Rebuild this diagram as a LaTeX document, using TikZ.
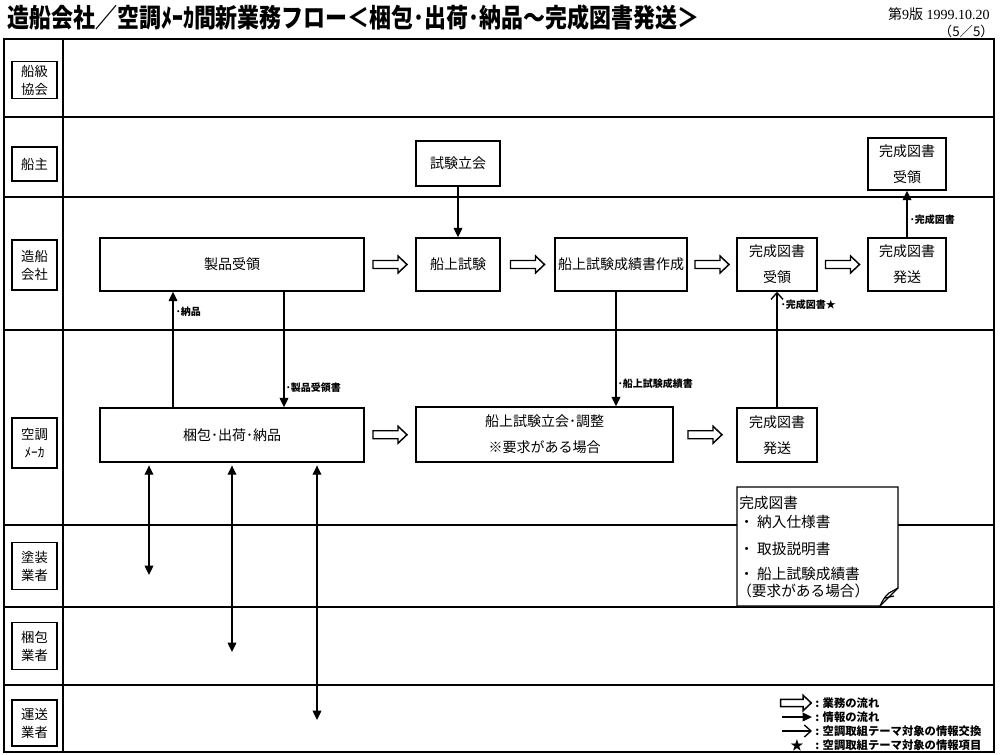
\documentclass[tikz,border=0pt]{standalone}
\usepackage{fontspec}
\usepackage{graphicx}
\setmainfont{Liberation Serif}
\newfontfamily\jp{Noto Sans CJK JP}
\usetikzlibrary{arrows.meta,calc}
\begin{document}
\begin{tikzpicture}[x=0.75pt,y=-0.75pt,
  box/.style={draw, line width=1.1pt, fill=white, align=center, inner sep=0pt,
    font=\jp\fontsize{10.5}{19.5}\selectfont},
  lanebox/.style={draw, line width=0.9pt, fill=white, align=center, inner sep=0pt,
    minimum width=33.75pt, font=\jp\fontsize{10}{13.5}\selectfont},
  laneline/.style={line width=0.9pt},
  info/.style={line width=1pt, -{Triangle[length=7pt,width=6.5pt]}},
  xchg/.style={line width=1pt, -{Straight Barb[length=5pt,width=9pt]}},
  both/.style={line width=1pt, {Triangle[length=7pt,width=6.5pt]}-{Triangle[length=7pt,width=6.5pt]}},
  lbl/.style={anchor=west, inner sep=0.5pt, font=\jp\bfseries\fontsize{7.5}{9}\selectfont},
  notetxt/.style={anchor=west, inner sep=0pt, font=\jp\fontsize{11}{13}\selectfont},
  legtxt/.style={anchor=west, inner sep=0pt, font=\jp\bfseries\fontsize{8.5}{10}\selectfont},
  barrow/.pic={\draw[line width=1.1pt, fill=white] (-17,-4) -- (8,-4) -- (8,-8.5) -- (17,0) -- (8,8.5) -- (8,4) -- (-17,4) -- cycle;}
]
\useasboundingbox (0,0) rectangle (1000,755);

% title and header
\node[anchor=west, inner sep=0pt] (title) at (7,18)
  {\scalebox{0.845}[1]{\jp\bfseries\fontsize{19.5}{22}\selectfont 造船会社／空調ﾒｰｶ間新業務フロー＜梱包･出荷･納品～完成図書発送＞}};
\node[anchor=east, inner sep=0pt, font=\fontsize{10.5}{12}\selectfont] (ver) at (990,14) {{\jp 第}9{\jp 版} 1999.10.20};
\node[anchor=east, inner sep=0pt, font=\jp\fontsize{10}{12}\selectfont] (page) at (994,31) {（5／5）};

% frame and lanes
\draw[line width=1pt] (4,39) rectangle (994,752);
\draw[laneline] (63,39) -- (63,752);
\foreach \yy in {117,197,330,525,607,685} { \draw[laneline] (4,\yy) -- (994,\yy); }

% lane labels
\node[lanebox, minimum height=27.75pt] (L1) at (34.5,80) {船級\\協会};
\node[lanebox, minimum height=25.5pt] (L2) at (34.5,164) {船主};
\node[lanebox, minimum height=37.5pt] (L3) at (34.5,265) {造船\\会社};
\node[lanebox, minimum height=37.5pt] (L4) at (34.5,443) {空調\\ﾒｰｶ};
\node[lanebox, minimum height=35pt] (L5) at (34.5,566) {塗装\\業者};
\node[lanebox, minimum height=35pt] (L6) at (34.5,646) {梱包\\業者};
\node[lanebox, minimum height=34.5pt] (L7) at (34.5,723) {運送\\業者};

% process boxes
\node[box, minimum width=63pt, minimum height=33.75pt] (witness) at (458,163.5) {試験立会};
\node[box, minimum width=58.5pt, minimum height=39pt] (ownrecv) at (907,164) {完成図書\\受領};
\node[box, minimum width=198pt, minimum height=39.75pt] (seihin) at (232,264.5) {製品受領};
\node[box, minimum width=63pt, minimum height=39.75pt] (senjo) at (458,264.5) {船上試験};
\node[box, minimum width=99pt, minimum height=39.75pt] (seiseki) at (621,264.5) {船上試験成績書作成};
\node[box, minimum width=60pt, minimum height=39.75pt] (juryo) at (777,264.5) {完成図書\\受領};
\node[box, minimum width=58.5pt, minimum height=39.75pt] (hasso1) at (907,264.5) {完成図書\\発送};
\node[box, minimum width=198pt, minimum height=40.5pt] (konpo) at (232,435) {梱包･出荷･納品};
\node[box, minimum width=192.75pt, minimum height=41.25pt] (tachiai) at (544.5,434.5) {船上試験立会･調整\\※要求がある場合};
\node[box, minimum width=60pt, minimum height=40.5pt] (hasso2) at (777,435) {完成図書\\発送};

% business flow arrows
\path ($(seihin.east)!0.5!(senjo.west)$) pic{barrow};
\path ($(senjo.east)!0.5!(seiseki.west)$) pic{barrow};
\path ($(seiseki.east)!0.5!(juryo.west)$) pic{barrow};
\path ($(juryo.east)!0.5!(hasso1.west)$) pic{barrow};
\path ($(konpo.east)!0.5!(tachiai.west)$) pic{barrow};
\path ($(tachiai.east)!0.5!(hasso2.west)$) pic{barrow};

% x positions of vertical connectors
\coordinate (xa) at (173,0);
\coordinate (xb) at (284,0);
\coordinate (xc) at (616,0);
\coordinate (xd) at (149,0);
\coordinate (xe) at (232,0);
\coordinate (xf) at (317,0);
\coordinate (p1) at (149,575);
\coordinate (p2) at (232,652);
\coordinate (p3) at (317,720);

% information arrows
\draw[info] (witness.south) -- (senjo.north);
\draw[info] (konpo.north -| xa) -- (seihin.south -| xa);
\node[lbl] (lab1) at (175,312) {･納品};
\draw[info] (seihin.south -| xb) -- (konpo.north -| xb);
\node[lbl] (lab2) at (285,388) {･製品受領書};
\draw[info] (seiseki.south -| xc) -- (tachiai.north -| xc);
\node[lbl] (lab3) at (617,384) {･船上試験成績書};
\draw[xchg] (hasso2.north) -- (juryo.south);
\node[lbl] (lab4) at (780,305) {･完成図書★};
\draw[info] (hasso1.north) -- (ownrecv.south);
\node[lbl] (lab5) at (909,220) {･完成図書};

% double arrows to contractors
\draw[both] ([yshift=-2pt]konpo.south -| xd) -- (p1);
\draw[both] ([yshift=-2pt]konpo.south -| xe) -- (p2);
\draw[both] ([yshift=-2pt]konpo.south -| xf) -- (p3);

% note
\draw[line width=1pt, fill=white] (737,487) -- (898,487) -- (898,588) -- (880,606) -- (737,606) -- cycle;
\draw[line width=0.9pt] (880,606) .. controls (884,598) .. (889,593) -- (898,588);
\draw[line width=0.9pt] (885,598) -- (894,596);
\node[notetxt] (n1) at (739,503) {完成図書};
\node[notetxt] (n2) at (739,522) {・ 納入仕様書};
\node[notetxt] (n3) at (739,549) {・ 取扱説明書};
\node[notetxt] (n4) at (739,574) {・ 船上試験成績書};
\node[notetxt] (n5) at (737,591) {（要求がある場合）};

% legend
\coordinate (lga) at (782,717);
\coordinate (lgb) at (812,717);
\coordinate (lgc) at (782,731);
\coordinate (lgd) at (812,731);
\path (796,703) pic[scale=0.9]{barrow};
\draw[info] (lga) -- (lgb);
\draw[xchg] (lgc) -- (lgd);
\node[inner sep=0pt, font=\jp\fontsize{10}{12}\selectfont] (star) at (797,745) {★};
\node[legtxt] (t1) at (815,703) {: 業務の流れ};
\node[legtxt] (t2) at (815,717) {: 情報の流れ};
\node[legtxt] (t3) at (815,731) {: 空調取組テーマ対象の情報交換};
\node[legtxt] (t4) at (815,745) {: 空調取組テーマ対象の情報項目};
\end{tikzpicture}
\end{document}
